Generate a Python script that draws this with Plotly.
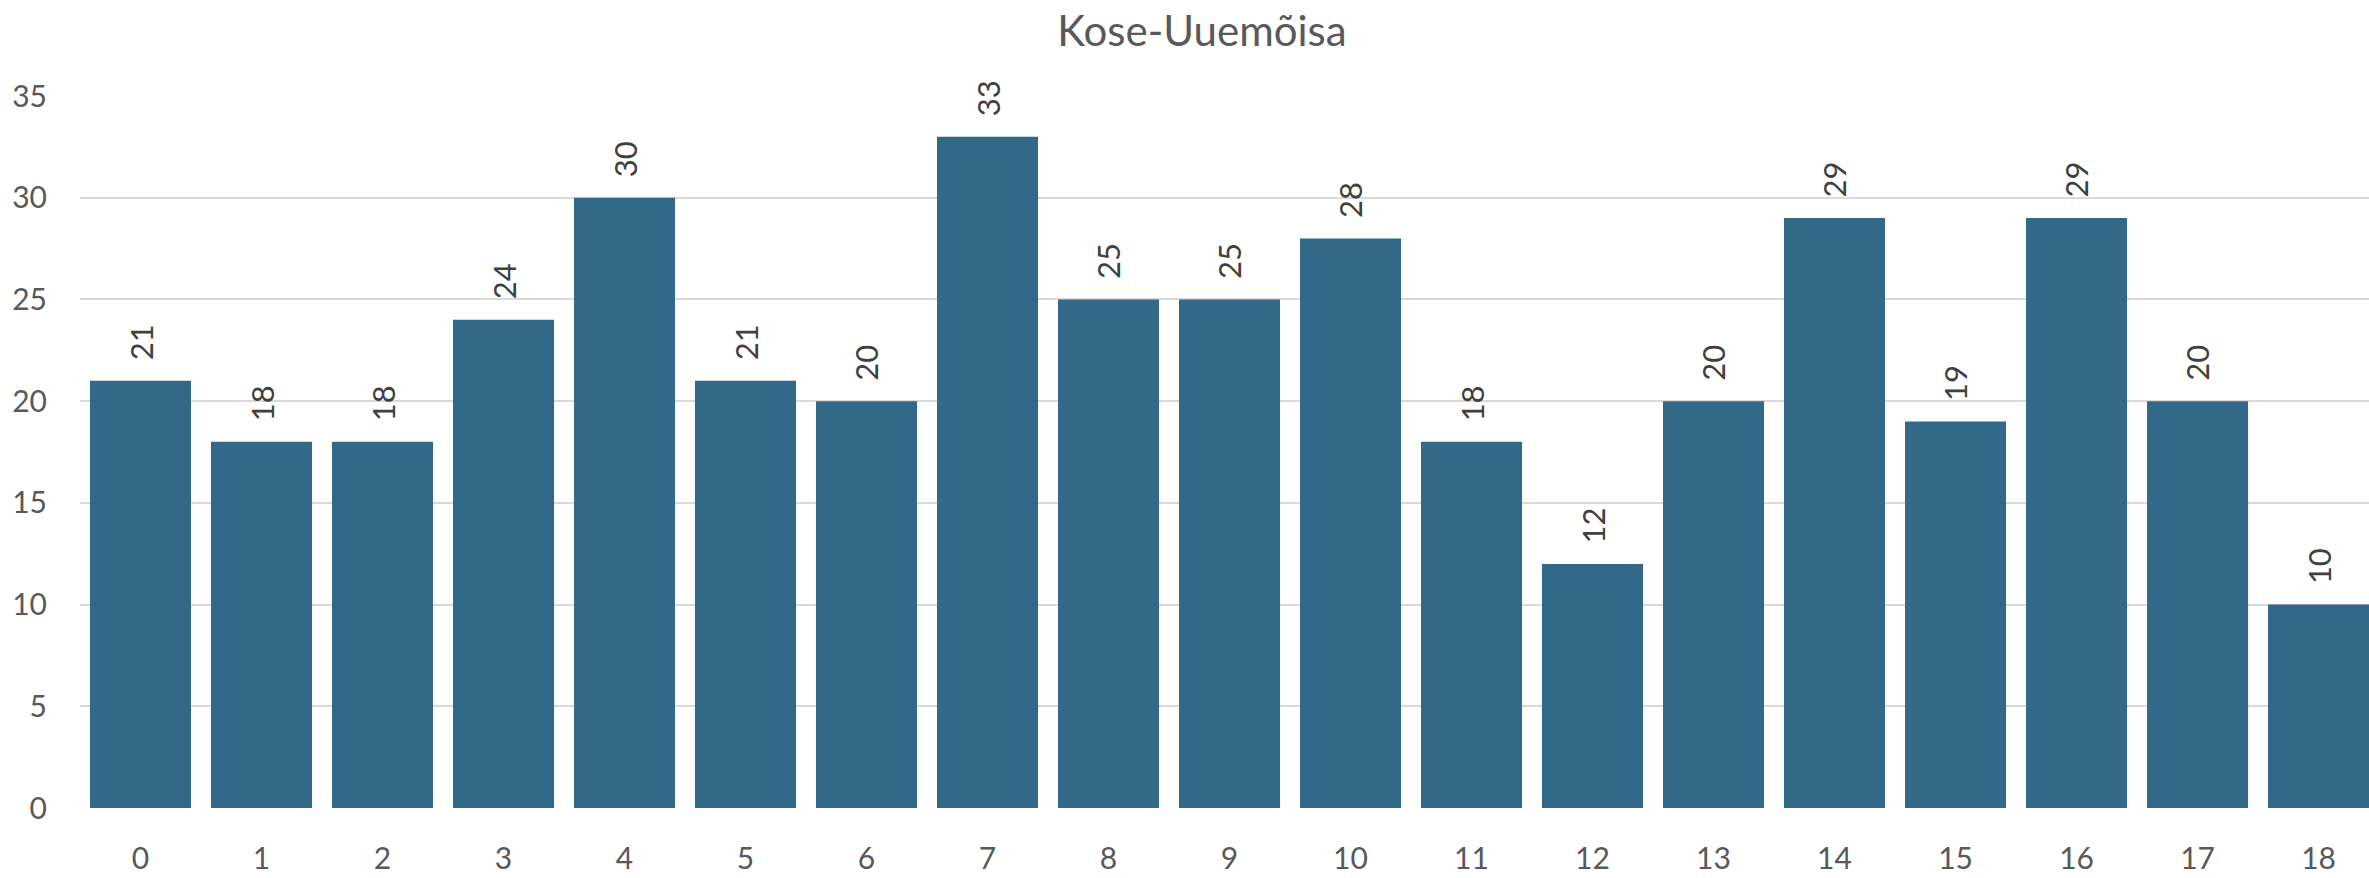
import plotly.graph_objects as go

categories = [str(i) for i in range(19)]
values = [21, 18, 18, 24, 30, 21, 20, 33, 25, 25, 28, 18, 12, 20, 29, 19, 29, 20, 10]
y_ticks = [0, 5, 10, 15, 20, 25, 30, 35]
title = "Kose-Uuemõisa"

FONT = "Lato"
BAR = "#326888"
TXT = "#595959"

fig = go.Figure(go.Bar(
    x=list(range(len(categories))), y=values,
    marker=dict(color=BAR, line=dict(width=0)),
    hoverinfo="skip",
))

for i, v in enumerate(values):
    fig.add_annotation(x=i, y=v, text=str(v), textangle=-90, showarrow=False,
                       xanchor="center", yanchor="bottom", yshift=18,
                       font=dict(family=FONT, size=31, color="#404040"))

fig.update_layout(
    width=2369, height=878,
    margin=dict(l=80, r=0, t=96, b=70),
    paper_bgcolor="white", plot_bgcolor="white",
    bargap=0.165,
    showlegend=False,
    title=dict(text=title, x=1202 / 2369, xanchor="center", xref="container",
               y=1 - 31 / 878, yanchor="middle", yref="container",
               font=dict(family=FONT, size=42, color=TXT)),
    font=dict(family=FONT, color=TXT),
)
fig.update_xaxes(
    tickmode="array", tickvals=list(range(len(categories))), ticktext=categories,
    range=[-0.5, 18.417], showgrid=False, zeroline=False, showline=False,
    tickfont=dict(family=FONT, size=30, color=TXT), ticks="", ticklabelstandoff=30,
)
fig.update_yaxes(
    range=[0, 35], tickvals=y_ticks, showgrid=True, gridcolor="#D9D9D9", gridwidth=2,
    zeroline=False, showline=False, ticks="",
    tickfont=dict(family=FONT, size=30, color=TXT), ticklabelstandoff=32,
)

fig.write_html("out.html", config={"displayModeBar": False},
               post_script="document.body.style.margin='0';")
